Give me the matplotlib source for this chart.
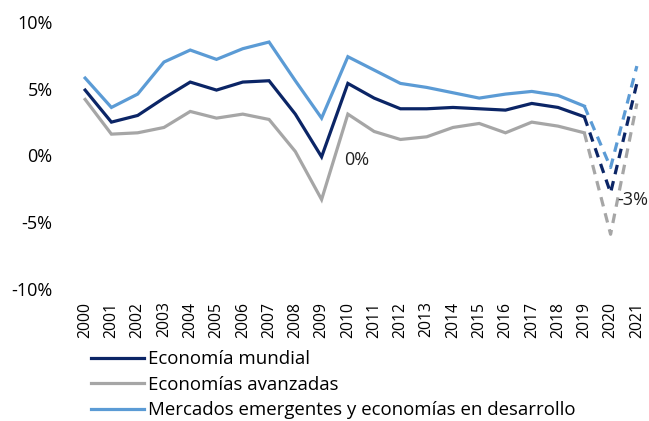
import numpy as np
import matplotlib.pyplot as plt

years = [str(y) for y in range(2000, 2022)]
mundial = [4.9, 2.5, 3.0, 4.3, 5.5, 4.9, 5.5, 5.6, 3.1, -0.1, 5.4, 4.3,
           3.5, 3.5, 3.6, 3.5, 3.4, 3.9, 3.6, 2.9, -2.8, 5.4]
avanzadas = [4.2, 1.6, 1.7, 2.1, 3.3, 2.8, 3.1, 2.7, 0.3, -3.3, 3.1, 1.8,
             1.2, 1.4, 2.1, 2.4, 1.7, 2.5, 2.2, 1.7, -5.9, 3.9]
emergentes = [5.8, 3.6, 4.6, 7.0, 7.9, 7.2, 8.0, 8.5, 5.6, 2.8, 7.4, 6.4,
              5.4, 5.1, 4.7, 4.3, 4.6, 4.8, 4.5, 3.7, -0.9, 6.7]
labels = ['Economía mundial', 'Economías avanzadas',
          'Mercados emergentes y economías en desarrollo']
colors = ['#0b2566', '#a6a6a6', '#5b9bd5']

plt.rcParams['font.family'] = ['Open Sans', 'DejaVu Sans']

fig = plt.figure(figsize=(6.49, 4.21), dpi=100)
ax = fig.add_axes([72 / 649, 1 - 289 / 421, (650 - 72) / 649, (289 - 22) / 421])

x = np.arange(len(years))
split = years.index('2019')
# draw in order so that navy sits on top
for series, c, lab in [(avanzadas, colors[1], labels[1]),
                       (emergentes, colors[2], labels[2]),
                       (mundial, colors[0], labels[0])]:
    ax.plot(x[:split + 1], series[:split + 1], color=c, lw=2.3,
            solid_joinstyle='miter', label=lab)
    ax.plot(x[split:], series[split:], color=c, lw=2.3, ls=(0, (3, 2.2)))

ax.set_xlim(-0.5, len(years) - 0.5)
ax.set_ylim(-10, 10)
ax.set_yticks([-10, -5, 0, 5, 10])
ax.set_yticklabels(['-10%', '-5%', '0%', '5%', '10%'], fontsize=13)
ax.set_xticks(x)
ax.set_xticklabels(years, rotation=90, fontsize=11.3)
ax.tick_params(length=0)
ax.tick_params(axis='y', pad=14)
ax.tick_params(axis='x', pad=9)
for s in ax.spines.values():
    s.set_visible(False)

ax.text(x[years.index('2010')] - 0.15, mundial[9] - 0.2, '0%', fontsize=13,
        va='center', ha='left', color='#222222')
ax.text(x[years.index('2020')] + 0.25, mundial[20] - 0.5, '-3%', fontsize=13,
        va='center', ha='left', color='#222222')

h, l = ax.get_legend_handles_labels()
order = [2, 0, 1]
fig.legend([h[i] for i in order], [l[i] for i in order],
           loc='upper left', bbox_to_anchor=(84 / 649, 1 - 343 / 421),
           frameon=False, fontsize=13.4, handlelength=2.85, handletextpad=0.2,
           labelspacing=0.4, borderaxespad=0)

fig.savefig('out.png', dpi=100)
